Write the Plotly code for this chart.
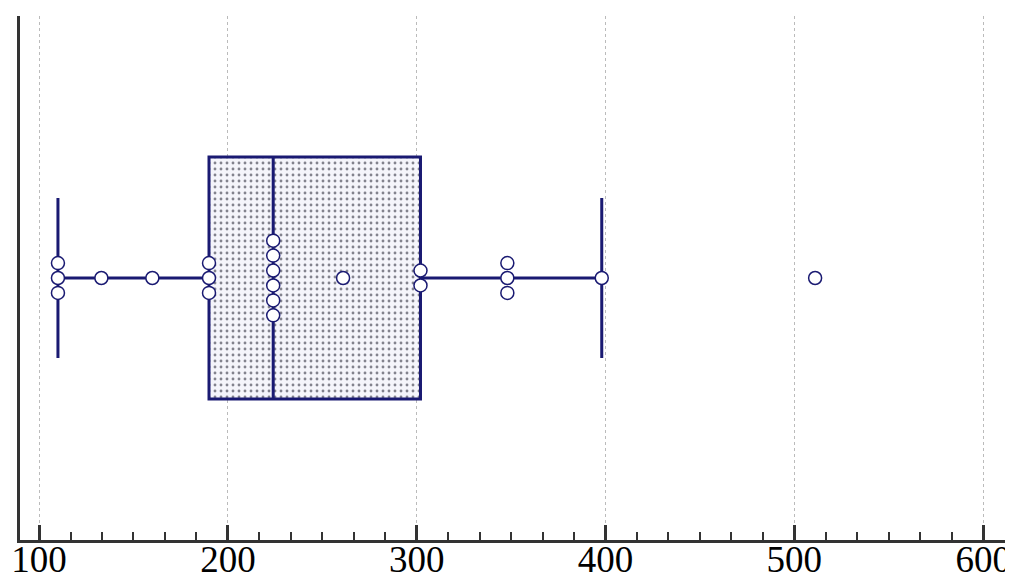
import plotly.graph_objects as go
from collections import Counter

values = [110, 110, 110, 133, 160, 190, 190, 190,
          224, 224, 224, 224, 224, 224, 261, 302, 302,
          348, 348, 348, 398, 511]

# Box statistics
q1 = 190
median = 224
q3 = 302
lower_whisker = 110
upper_whisker = 398

tick_vals = [100, 200, 300, 400, 500, 600]
tick_text = ["100", "200", "300", "400", "500", "600"]

NAVY = "#1a1a72"
AXIS = "#333333"

# stack equal values vertically (dot plot style)
step = 0.057
counts = Counter(values)
seen = Counter()
px, py = [], []
for v in values:
    k = counts[v]
    i = seen[v]
    seen[v] += 1
    px.append(v)
    py.append((i - (k - 1) / 2) * step)

box_w = 0.924

fig = go.Figure()

# dotted fill of the box
fig.add_trace(go.Bar(
    x=[q3 - q1], base=[q1], y=[0], orientation="h", width=box_w,
    marker=dict(color="#f5f5fb",
                pattern=dict(shape=".", fgcolor="#111122", bgcolor="#f5f5fb",
                             size=6, solidity=0.18),
                line=dict(width=0)),
    hoverinfo="skip", showlegend=False,
))

fig.add_trace(go.Box(
    y=[0], q1=[q1], median=[median], q3=[q3],
    lowerfence=[lower_whisker], upperfence=[upper_whisker],
    orientation="h", width=box_w, whiskerwidth=0.66,
    boxpoints=False, fillcolor="rgba(0,0,0,0)",
    line=dict(color=NAVY, width=3), showlegend=False,
))

fig.add_trace(go.Scatter(
    x=px, y=py, mode="markers",
    marker=dict(size=13, color="white", line=dict(color=NAVY, width=1.5)),
    showlegend=False,
))

# the page adds an 8px body margin, so the figure is 8px smaller each way
fig.update_layout(
    width=1005, height=574,
    margin=dict(l=12, r=0, t=8, b=42),
    paper_bgcolor="white", plot_bgcolor="white",
    barmode="overlay", boxmode="overlay",
    xaxis=dict(
        range=[89.9, 615.8], automargin=False,
        tickvals=tick_vals, ticktext=tick_text,
        ticks="inside", ticklen=15, tickwidth=2.5, tickcolor=AXIS,
        minor=dict(dtick=100 / 6, tick0=0, ticks="inside", ticklen=8,
                   tickwidth=1.5, tickcolor=AXIS, showgrid=False),
        showline=True, linecolor=AXIS, linewidth=3,
        showgrid=True, gridcolor="#bbbbbb", griddash="dot", gridwidth=1,
        zeroline=False, ticklabelstandoff=-15, ticklabeloverflow="allow",
        tickfont=dict(family="Liberation Serif", size=37, color="black"),
    ),
    yaxis=dict(
        range=[-1, 1], showticklabels=False, ticks="", automargin=False,
        showline=True, linecolor=AXIS, linewidth=3,
        showgrid=False, zeroline=False,
    ),
)

fig.write_html("out.html", post_script="document.body.style.overflow='hidden';")
